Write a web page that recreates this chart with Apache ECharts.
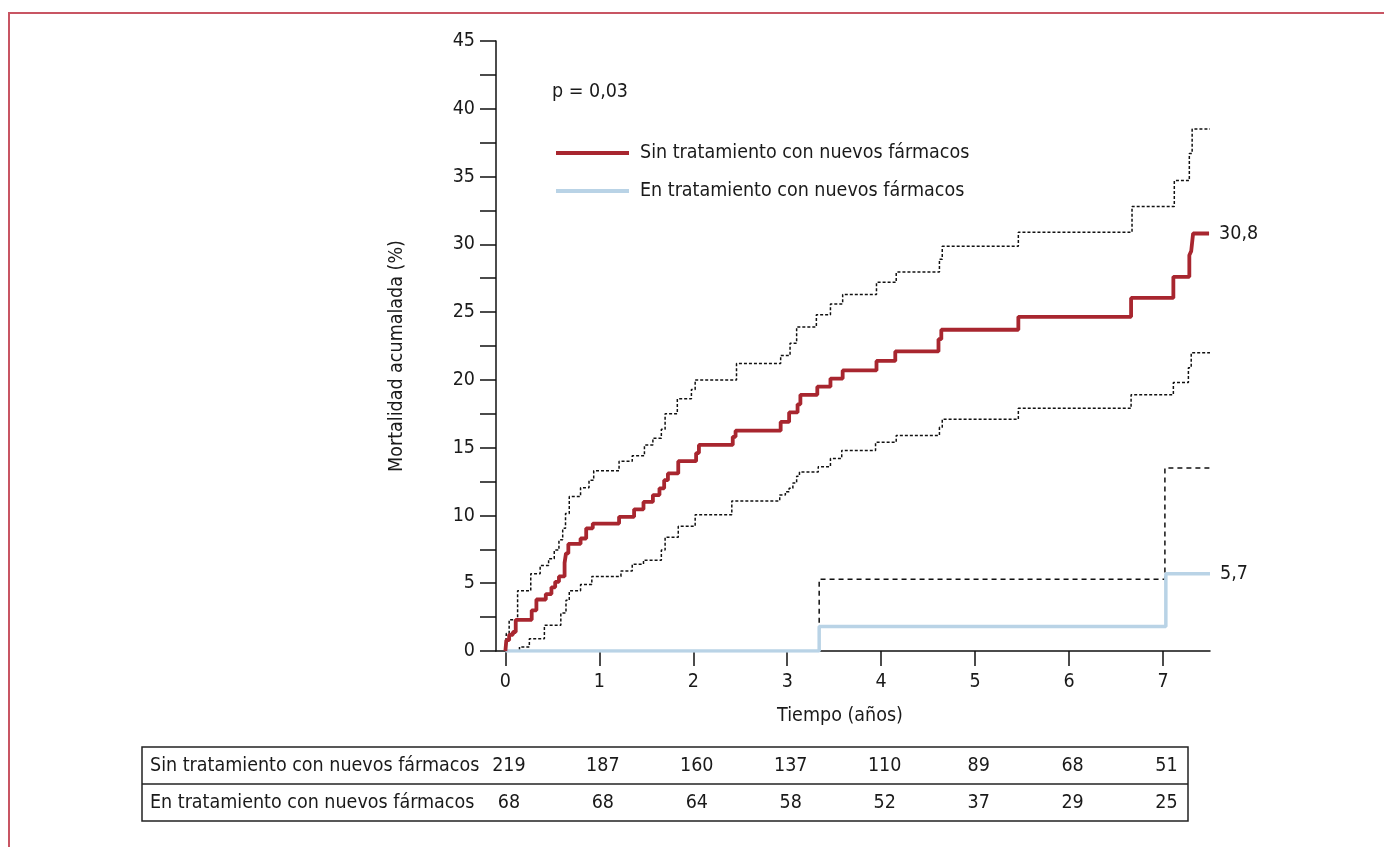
<!DOCTYPE html>
<html><head><meta charset="utf-8">
<script src="https://cdn.jsdelivr.net/npm/echarts@6/dist/echarts.min.js"></script>
<style>html,body{margin:0;padding:0;background:#fff}#c{width:1384px;height:847px}</style>
</head><body><div id="c"></div>
<script>
const FONT = '"Liberation Sans Narrow","DejaVu Sans Condensed","Arial Narrow",sans-serif';
const FS = 19.5;
const TXT = '#1a1a1a';
const seriesNames = ['Sin tratamiento con nuevos fármacos', 'En tratamiento con nuevos fármacos'];

// [time (years), cumulative mortality (%)]
const sinT = [[0,0],[0.01,0.8],[0.04,1.2],[0.08,1.4],[0.11,2.3],[0.28,3.0],[0.33,3.8],[0.43,4.2],[0.49,4.7],[0.53,5.1],[0.57,5.5],[0.63,6.5],[0.645,7.2],[0.67,7.9],[0.80,8.3],[0.86,9.05],[0.93,9.4],[1.21,9.9],[1.37,10.45],[1.47,11.0],[1.57,11.5],[1.64,12.0],[1.69,12.6],[1.73,13.1],[1.84,14.0],[2.03,14.6],[2.06,15.2],[2.42,15.8],[2.45,16.25],[2.93,16.9],[3.02,17.6],[3.11,18.2],[3.14,18.9],[3.32,19.5],[3.46,20.1],[3.59,20.7],[3.95,21.4],[4.15,22.1],[4.61,23.0],[4.64,23.7],[5.46,24.65],[6.66,26.05],[7.11,27.6],[7.28,29.2],[7.30,29.5],[7.32,30.8],[7.49,30.8]];
const sinUpper = [[0,0],[0.01,1.3],[0.04,2.3],[0.13,4.45],[0.27,5.7],[0.37,6.3],[0.46,6.8],[0.52,7.45],[0.57,8.2],[0.61,9.05],[0.64,10.15],[0.68,11.4],[0.80,12.05],[0.89,12.6],[0.94,13.3],[1.21,14.0],[1.35,14.4],[1.48,15.2],[1.57,15.7],[1.66,16.35],[1.70,17.5],[1.83,18.6],[1.98,19.3],[2.02,20.0],[2.46,21.2],[2.93,21.8],[3.03,22.7],[3.10,23.9],[3.31,24.8],[3.46,25.6],[3.59,26.3],[3.95,27.2],[4.16,27.95],[4.62,28.9],[4.65,29.85],[5.46,30.9],[6.67,32.8],[7.12,34.7],[7.28,36.7],[7.31,38.5],[7.5,38.5]];
const sinLower = [[0,0],[0.15,0.3],[0.255,0.9],[0.415,1.9],[0.59,2.8],[0.645,3.75],[0.68,4.45],[0.80,4.9],[0.92,5.5],[1.23,5.9],[1.35,6.4],[1.47,6.7],[1.66,7.45],[1.70,8.4],[1.84,9.2],[2.02,10.05],[2.41,11.07],[2.92,11.5],[2.98,11.75],[3.02,12.0],[3.06,12.4],[3.10,12.9],[3.13,13.2],[3.33,13.6],[3.46,14.2],[3.58,14.8],[3.94,15.4],[4.16,15.9],[4.62,16.5],[4.65,17.1],[5.46,17.9],[6.66,18.9],[7.11,19.8],[7.27,20.9],[7.30,22.0],[7.5,22.0]];
const enT = [[0,0],[3.34,1.8],[7.03,5.7],[7.5,5.7]];
const enUpper = [[0,0],[3.34,5.3],[7.02,13.5],[7.55,13.5]];

const xTickValues = [0,1,2,3,4,5,6,7];
const yTickValues = [0,2.5,5,7.5,10,12.5,15,17.5,20,22.5,25,27.5,30,32.5,35,37.5,40,42.5,45];
const yLabelValues = [0,5,10,15,20,25,30,35,40,45];

const tableYears = [0,1,2,3,4,5,6,7];
const atRiskSin = [219,187,160,137,110,89,68,51];
const atRiskEn = [68,68,64,58,52,37,29,25];

const pText = 'p = 0,03';
const xTitle = 'Tiempo (años)';
const yTitle = 'Mortalidad acumalada (%)';

const tableData = [];
tableYears.forEach((t, i) => {
  tableData.push([t, seriesNames[0], atRiskSin[i]]);
  tableData.push([t, seriesNames[1], atRiskEn[i]]);
});

const chart = echarts.init(document.getElementById('c'));
const txt = (extra) => Object.assign({fontSize: FS, fontFamily: FONT, color: TXT}, extra || {});
const endLbl = {
  show: true, distance: 10, fontSize: FS, fontFamily: FONT, color: TXT,
  formatter: p => String(p.value[1]).replace('.', ',')
};
const FONTSTR = FS + 'px ' + FONT;

chart.setOption({
  animation: false,
  textStyle: {fontFamily: FONT},
  grid: [
    {left: 496, width: 714, top: 41, height: 610},
    {left: 496, width: 714, top: 747, height: 74}
  ],
  xAxis: [
    {
      type: 'value', gridIndex: 0, min: -0.1, max: 7.5,
      axisLine: {onZero: false, lineStyle: {color: '#111', width: 1.5}},
      axisTick: {show: true, length: 15, customValues: xTickValues, lineStyle: {color: '#111', width: 1.5}},
      axisLabel: txt({margin: 21, customValues: xTickValues}),
      splitLine: {show: false}
    },
    {type: 'value', gridIndex: 1, min: -0.1, max: 7.5, show: false}
  ],
  yAxis: [
    {
      type: 'value', gridIndex: 0, min: 0, max: 45,
      axisLine: {show: true, onZero: false, lineStyle: {color: '#111', width: 1.5}},
      axisTick: {show: true, length: 16, customValues: yTickValues, lineStyle: {color: '#111', width: 1.5}},
      axisLabel: txt({margin: 21, customValues: yLabelValues}),
      splitLine: {show: false}
    },
    {type: 'category', gridIndex: 1, data: seriesNames, inverse: true, show: false}
  ],
  legend: {
    data: seriesNames, orient: 'vertical', left: 556, top: 141, padding: 0,
    itemWidth: 73, itemHeight: 4, itemGap: 14, icon: 'rect', selectedMode: false,
    itemStyle: {borderWidth: 0},
    textStyle: txt({lineHeight: 24, padding: [0, 0, 0, 6]})
  },
  series: [
    {name: 'IC sin sup', type: 'line', step: 'end', data: sinUpper, symbol: 'none', silent: true,
     lineStyle: {color: '#111', width: 1.5, type: [3, 2]}, z: 2},
    {name: 'IC sin inf', type: 'line', step: 'end', data: sinLower, symbol: 'none', silent: true,
     lineStyle: {color: '#111', width: 1.5, type: [3, 2]}, z: 2},
    {name: 'IC en sup', type: 'line', step: 'end', data: enUpper, symbol: 'none', silent: true, clip: false,
     lineStyle: {color: '#111', width: 1.5, type: [5, 4]}, z: 2},
    {name: seriesNames[1], type: 'line', step: 'end', data: enT, symbol: 'none', silent: true,
     color: '#b9d3e6', itemStyle: {color: '#b9d3e6'},
     lineStyle: {color: '#b9d3e6', width: 3.5}, endLabel: endLbl, z: 4},
    {name: seriesNames[0], type: 'line', step: 'end', data: sinT, symbol: 'none', silent: true,
     color: '#a8262f', itemStyle: {color: '#a8262f'},
     lineStyle: {color: '#a8262f', width: 3.8}, endLabel: endLbl, z: 5},
    {name: 'tabla', type: 'scatter', xAxisIndex: 1, yAxisIndex: 1, data: tableData,
     encode: {x: 0, y: 1}, symbolSize: 1, itemStyle: {color: 'rgba(0,0,0,0)'}, silent: true,
     label: txt({show: true, position: 'right', distance: 0, align: 'center', offset: [3, 0],
       textBorderWidth: 0, opacity: 1, formatter: p => String(p.value[2])})}
  ],
  graphic: [
    {type: 'polyline', silent: true, shape: {points: [[9, 847], [9, 13], [1384, 13]]},
     style: {stroke: '#c85563', lineWidth: 2, fill: null}},
    {type: 'rect', silent: true, shape: {x: 142, y: 747, width: 1046, height: 74},
     style: {stroke: '#222', lineWidth: 1.5, fill: null}},
    {type: 'line', silent: true, shape: {x1: 142, y1: 784, x2: 1188, y2: 784},
     style: {stroke: '#222', lineWidth: 1.5}},
    {type: 'text', silent: true, style: {text: seriesNames[0], x: 150, y: 766, fill: TXT,
     font: FONTSTR, textVerticalAlign: 'middle'}},
    {type: 'text', silent: true, style: {text: seriesNames[1], x: 150, y: 803, fill: TXT,
     font: FONTSTR, textVerticalAlign: 'middle'}},
    {type: 'text', silent: true, style: {text: pText, x: 552, y: 92, fill: TXT,
     font: FONTSTR, textVerticalAlign: 'middle'}},
    {type: 'text', silent: true, style: {text: xTitle, x: 840, y: 716, fill: TXT,
     font: FONTSTR, textAlign: 'center', textVerticalAlign: 'middle'}},
    {type: 'text', silent: true, x: 397, y: 356, rotation: Math.PI / 2,
     style: {text: yTitle, x: 0, y: 0, fill: TXT, font: FONTSTR,
     textAlign: 'center', textVerticalAlign: 'middle'}}
  ]
});
</script></body></html>
